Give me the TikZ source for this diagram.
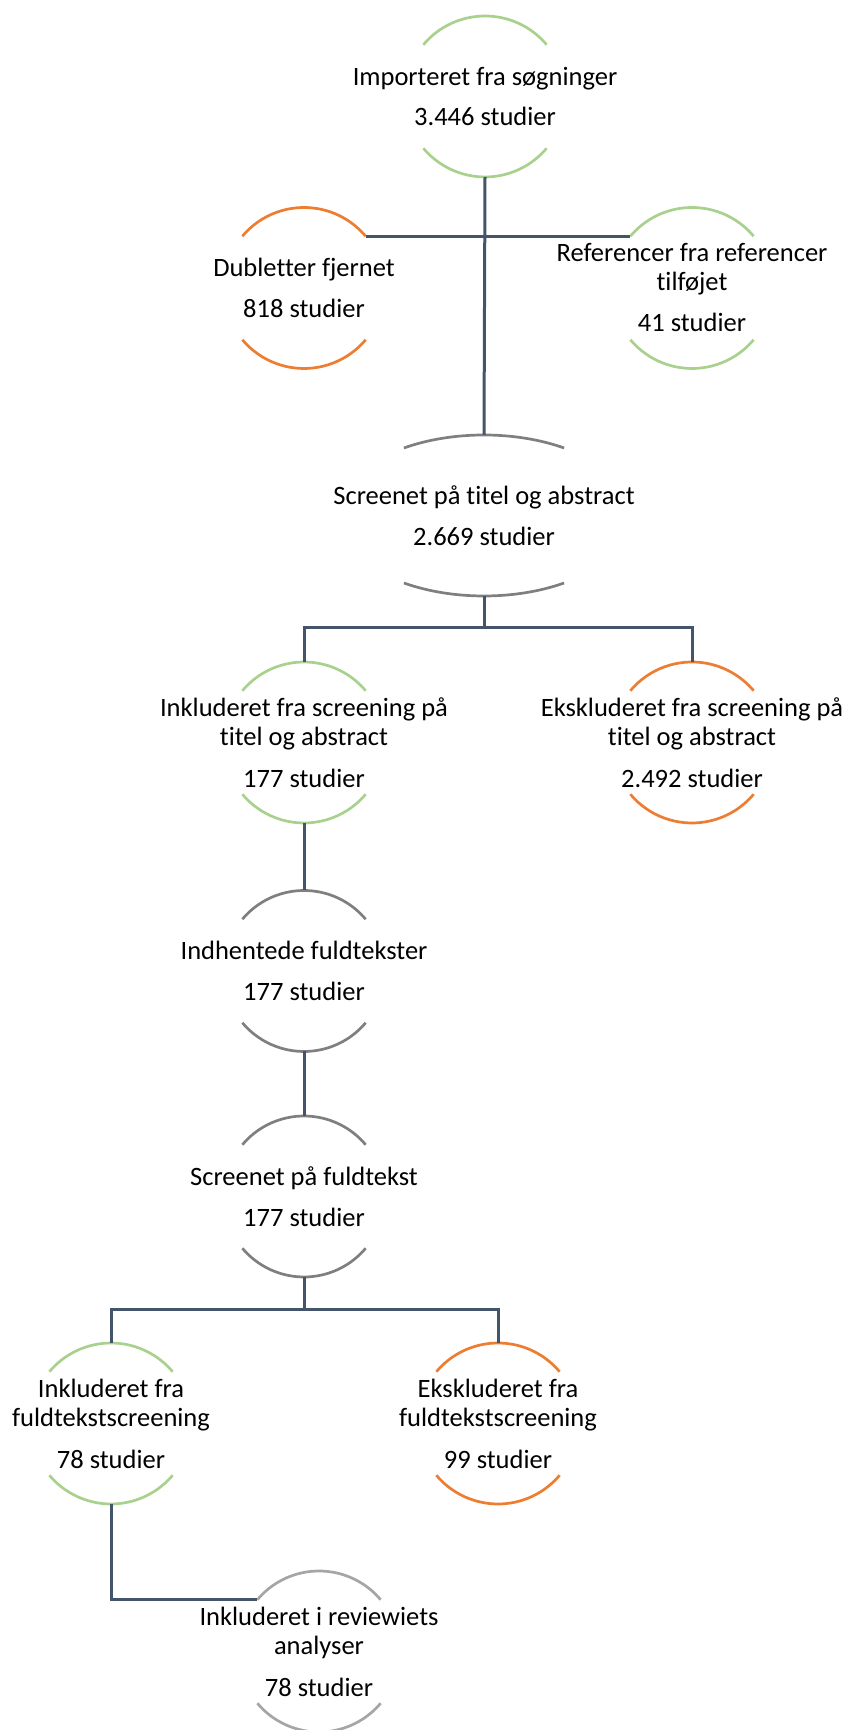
\documentclass[tikz,border=0pt]{standalone}
\usepackage{fontspec}
\setmainfont[Ligatures=NoCommon]{Carlito}
\usetikzlibrary{calc}
\definecolor{lgreen}{HTML}{A9D18E}
\definecolor{orng}{HTML}{ED7D31}
\definecolor{gry}{HTML}{7F7F7F}
\definecolor{lgry}{HTML}{A5A5A5}
\definecolor{conn}{HTML}{44546A}
\newcommand\bubble[5]{%
  \node[lbl] (#1) at (#2,#3) {#5};
  \coordinate (#1-t) at ($(#1.center)+(0,80.5)$);
  \coordinate (#1-b) at ($(#1.center)+(0,-80.5)$);
  \coordinate (#1-tl) at ($(#1.center)+(140:80.5)$);
  \coordinate (#1-tr) at ($(#1.center)+(40:80.5)$);
  \draw[arcline,#4] (#1-tl) arc[start angle=140,end angle=40,radius=80.5];
  \draw[arcline,#4] ($(#1.center)+(220:80.5)$) arc[start angle=220,end angle=320,radius=80.5];
}
\begin{document}
\begin{tikzpicture}[x=1pt,y=1pt,
  lbl/.style={align=center, font=\fontsize{26.5}{29}\selectfont, inner sep=0pt},
  arcline/.style={line width=2.7pt},
  connector/.style={draw=conn, line width=3pt}]
\useasboundingbox (0,0) rectangle (849,1730);

\bubble{A}{485}{1633.5}{lgreen}{Importeret fra søgninger\\[11pt]3.446 studier}
\bubble{Dup}{304}{1442}{orng}{Dubletter fjernet\\[12pt]818 studier}
\bubble{Ref}{692}{1442}{lgreen}{Referencer fra referencer\\tilføjet\\[12pt]41 studier}

% ellipse node B
\node[lbl] (B) at (484,1214.5) {Screenet på titel og abstract\\[12pt]2.669 studier};
\coordinate (B-t) at ($(B.center)+(0,80.5)$);
\coordinate (B-b) at ($(B.center)+(0,-80.5)$);
\draw[arcline,gry] ($(B.center)+(123:147 and 80.5)$) arc[start angle=123,end angle=57,x radius=147,y radius=80.5];
\draw[arcline,gry] ($(B.center)+(237:147 and 80.5)$) arc[start angle=237,end angle=303,x radius=147,y radius=80.5];

\bubble{C}{304}{987.5}{lgreen}{Inkluderet fra screening på\\titel og abstract\\[13pt]177 studier}
\bubble{D}{692}{987.5}{orng}{Ekskluderet fra screening på\\titel og abstract\\[13pt]2.492 studier}
\bubble{E}{304}{759}{gry}{Indhentede fuldtekster\\[12pt]177 studier}
\bubble{F}{304}{533.5}{gry}{Screenet på fuldtekst\\[12pt]177 studier}
\bubble{G}{111}{306.5}{lgreen}{Inkluderet fra\\fuldtekstscreening\\[13pt]78 studier}
\bubble{H}{498}{306.5}{orng}{Ekskluderet fra\\fuldtekstscreening\\[13pt]99 studier}
\bubble{I}{319}{78.5}{lgry}{Inkluderet i reviewiets\\analyser\\[13pt]78 studier}

\coordinate (j1) at (484,1102);
\coordinate (j2) at (304,420);

\draw[connector] (A-b) -- (B-t);
\draw[connector] (Dup-tr) -- (Ref-tl);
\draw[connector] (B-b) -- (j1);
\draw[connector] (C-t) |- (j1) -| (D-t);
\draw[connector] (C-b) -- (E-t);
\draw[connector] (E-b) -- (F-t);
\draw[connector] (F-b) -- (j2);
\draw[connector] (G-t) |- (j2) -| (H-t);
\draw[connector] (G-b) |- (I-tl);
\end{tikzpicture}
\end{document}
